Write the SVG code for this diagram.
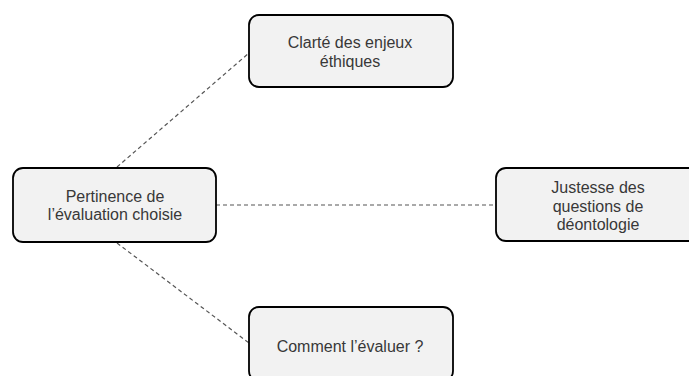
<svg xmlns="http://www.w3.org/2000/svg" width="689" height="376" viewBox="0 0 689 376">
<style>
.node rect{fill:#f2f2f2;stroke:#000;stroke-width:1.8}
.node text{font-family:"Liberation Sans",Arial,sans-serif;font-size:16px;fill:#383838;text-anchor:middle}
.conn line{stroke:#555;stroke-width:1.2;stroke-dasharray:4 3}
</style>
<rect width="689" height="376" fill="#fff"/>
<g id="connectors" class="conn">
<line x1="117" y1="167" x2="249" y2="53"/>
<line x1="216" y1="205" x2="496" y2="205"/>
<line x1="117" y1="243" x2="249" y2="343"/>
</g>
<g id="n-pertinence" class="node">
<rect x="13" y="168" width="203" height="74" rx="10"/>
<text x="115" y="201.5">Pertinence de</text>
<text x="115" y="219.5">l’évaluation choisie</text>
</g>
<g id="n-clarte" class="node">
<rect x="249" y="15" width="204" height="72" rx="10"/>
<text x="350" y="48">Clarté des enjeux</text>
<text x="350" y="66.5">éthiques</text>
</g>
<g id="n-justesse" class="node">
<rect x="496" y="168" width="203" height="73" rx="10"/>
<text x="598" y="193">Justesse des</text>
<text x="598" y="211.5">questions de</text>
<text x="598" y="230">déontologie</text>
</g>
<g id="n-comment" class="node">
<rect x="249" y="307" width="204" height="74" rx="10"/>
<text x="350" y="351.5">Comment l’évaluer ?</text>
</g>
</svg>
